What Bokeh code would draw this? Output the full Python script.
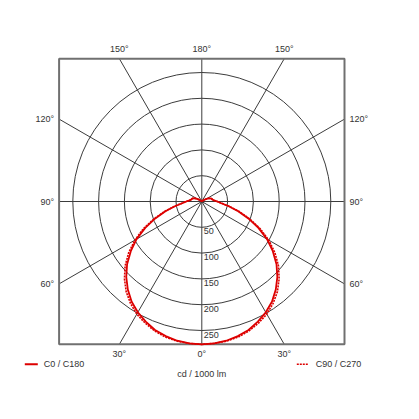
import numpy as np
from bokeh.plotting import figure
from bokeh.models import Range1d
from bokeh.core.properties import value
from bokeh.embed import file_html
from bokeh.resources import INLINE

# ---- data (cd / 1000 lm) ----
angles = list(range(0, 185, 5))
c0_c180 = [277, 276, 274, 270, 265, 257, 248, 237, 223, 207, 189, 168, 146, 121,
           96, 73, 53, 38, 30, 24, 21, 20, 18, 14, 9, 5, 2, 1,
           0, 0, 0, 0, 0, 0, 0, 0, 0]
c90_c270 = [277, 276, 275, 272, 267, 260, 252, 241, 228, 212, 194, 173, 150, 125,
            99, 75, 54, 39, 30, 24, 21, 20, 18, 14, 9, 5, 2, 1,
            0, 0, 0, 0, 0, 0, 0, 0, 0]
ring_values = [50, 100, 150, 200, 250]
ring_labels = ["50", "100", "150", "200", "250"]
spoke_angles = [0, 30, 60, 90, 120, 150, 180, 210, 240, 270, 300, 330]
series_names = ["C0 / C180", "C90 / C270"]
unit_label = "cd / 1000 lm"

# ---- layout ----
W = H = 400
s = 129.0 / 250.0          # px per cd
cx, cy = 201.3, 201.0      # centre in frame px
B = 142.7 / s              # half box size in cd
FONT = value("Liberation Sans")
TXT = "#333333"
RED = "#dd0000"

p = figure(width=W, height=H, output_backend="svg", toolbar_location=None,
           x_range=Range1d(-cx / s, (W - cx) / s),
           y_range=Range1d(-(H - cy) / s, cy / s),
           x_axis_type=None, y_axis_type=None, min_border=0)
p.outline_line_color = None
p.background_fill_color = "white"
p.border_fill_color = "white"

# rings
p.circle(x=[0] * len(ring_values), y=[0] * len(ring_values), radius=ring_values,
         fill_color=None, line_color="#3c3c3c", line_width=1)

# spokes, clipped at box
sx1, sy1 = [], []
lab_b, lab_t, lab_l, lab_r = ([], [], []), ([], [], []), ([], [], []), ([], [], [])
for a in spoke_angles:
    t = np.radians(a)
    dx, dy = np.sin(t), -np.cos(t)
    d = B / max(abs(dx), abs(dy))
    x1, y1 = dx * d, dy * d
    sx1.append(x1); sy1.append(y1)
    lab = "%d°" % min(a, 360 - a)
    if abs(dy) >= abs(dx) - 1e-9 and dy < 0:
        tgt = lab_b
    elif abs(dy) >= abs(dx) - 1e-9 and dy > 0:
        tgt = lab_t
    elif dx < 0:
        tgt = lab_l
    else:
        tgt = lab_r
    tgt[0].append(x1); tgt[1].append(y1); tgt[2].append(lab)
p.segment(x0=[0] * len(sx1), y0=[0] * len(sy1), x1=sx1, y1=sy1,
          line_color="#3c3c3c", line_width=1)

# box
p.rect(x=[0], y=[0], width=[2 * B], height=[2 * B], fill_color=None,
       line_color="#707070", line_width=2)

common = dict(text_font=FONT, text_font_size="9px", text_color=TXT)
p.text(x=lab_b[0], y=lab_b[1], text=lab_b[2], text_align="center",
       text_baseline="top", y_offset=5, **common)
p.text(x=lab_t[0], y=lab_t[1], text=lab_t[2], text_align="center",
       text_baseline="bottom", y_offset=-5, **common)
p.text(x=lab_l[0], y=lab_l[1], text=lab_l[2], text_align="right",
       text_baseline="middle", x_offset=-5, **common)
p.text(x=lab_r[0], y=lab_r[1], text=lab_r[2], text_align="left",
       text_baseline="middle", x_offset=5, **common)

# curves
th = np.radians(angles)
def outline(vals):
    v = np.array(vals, dtype=float)
    x = v * np.sin(th)
    y = -v * np.cos(th)
    return (np.concatenate([-x[::-1], x[1:]]), np.concatenate([y[::-1], y[1:]]))

x1, y1 = outline(c90_c270)
p.line(x1, y1, line_color=RED, line_width=1.6, line_dash="2 1")
x0, y0 = outline(c0_c180)
p.line(x0, y0, line_color=RED, line_width=1.8)

# ring labels
p.text(x=[0] * len(ring_values), y=[-r for r in ring_values], text=ring_labels,
       text_align="left", text_baseline="top", x_offset=2, y_offset=1, **common)

# legend
ly = -B - 20 / s
p.line(x=[-177 / s, -164 / s], y=[ly, ly], line_color=RED, line_width=2)
p.text(x=[-158 / s], y=[ly], text=[series_names[0]], text_align="left",
       text_baseline="middle", **common)
p.line(x=[95 / s, 107 / s], y=[ly, ly], line_color=RED, line_width=1.6, line_dash="2 1")
p.text(x=[114 / s], y=[ly], text=[series_names[1]], text_align="left",
       text_baseline="middle", **common)
p.text(x=[0], y=[-B - 30 / s], text=[unit_label], text_align="center",
       text_baseline="middle", **common)

open("out.html", "w").write(file_html(p, INLINE))
